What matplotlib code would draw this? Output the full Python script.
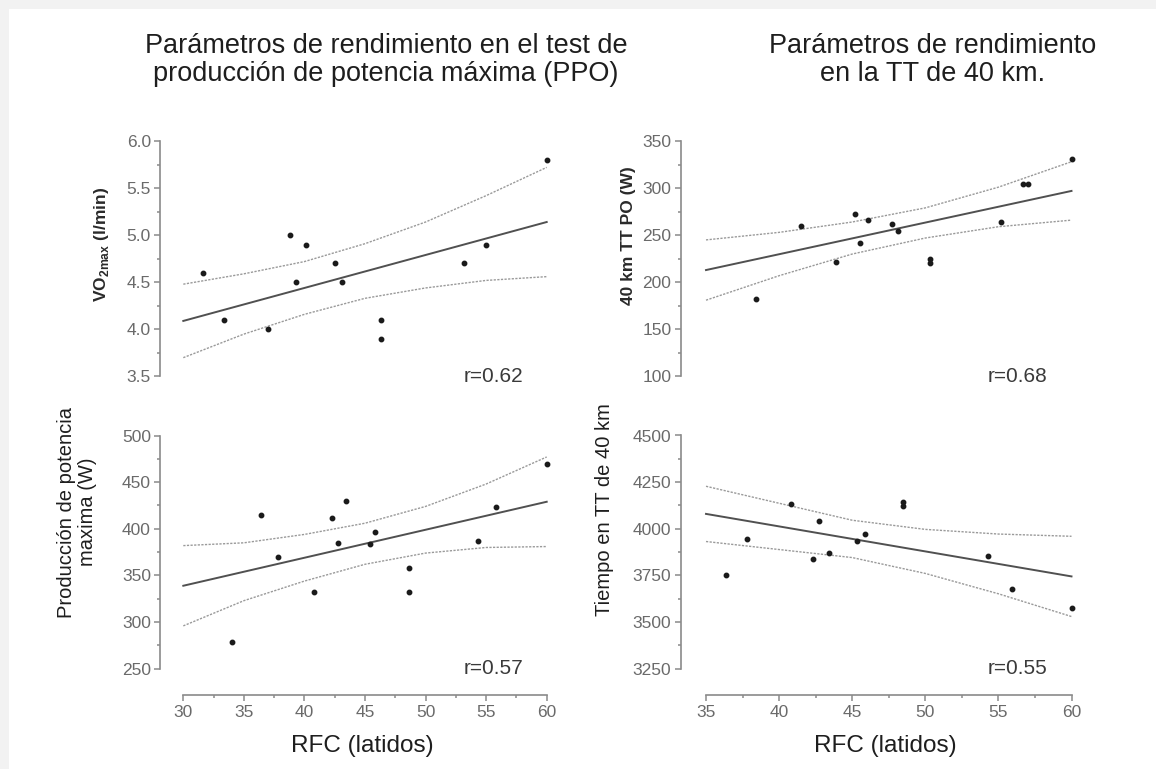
import matplotlib
matplotlib.use("Agg")
import matplotlib.pyplot as plt
from matplotlib.patches import Rectangle
from matplotlib.ticker import MultipleLocator, FormatStrFormatter

plt.rcParams['font.family'] = ['Liberation Sans', 'DejaVu Sans']
plt.rcParams['mathtext.fontset'] = 'custom'
plt.rcParams['mathtext.rm'] = 'Liberation Sans'
plt.rcParams['mathtext.bf'] = 'Liberation Sans:bold'

# ---------------- data ----------------
# Panel A: VO2max vs RFC
vo2_x = [31.6, 33.4, 37.0, 38.8, 39.3, 40.1, 42.5, 43.1, 46.3, 46.3, 53.2, 55.0, 60.0]
vo2_y = [4.6, 4.1, 4.0, 5.0, 4.5, 4.9, 4.7, 4.5, 4.1, 3.9, 4.7, 4.9, 5.8]
vo2_fit_x = [30, 60]
vo2_fit_y = [4.09, 5.14]
band_x_left = [30, 35, 40, 45, 50, 55, 60]
vo2_upper = [4.48, 4.59, 4.72, 4.91, 5.14, 5.42, 5.72]
vo2_lower = [3.70, 3.95, 4.16, 4.33, 4.44, 4.52, 4.56]

# Panel B: 40 km TT PO vs RFC
ttpo_x = [38.4, 41.5, 43.9, 45.2, 45.5, 46.1, 47.7, 48.1, 50.3, 50.3, 55.2, 56.7, 57.0, 60.0]
ttpo_y = [182, 260, 222, 273, 242, 266, 262, 254, 225, 221, 264, 304, 304, 331]
ttpo_fit_x = [35, 60]
ttpo_fit_y = [213, 297]
band_x_right = [35, 40, 45, 50, 55, 60]
ttpo_upper = [245, 253, 264, 279, 301, 328]
ttpo_lower = [181, 207, 230, 247, 259, 266]

# Panel C: PPO vs RFC
ppo_x = [34.0, 36.4, 37.8, 40.8, 42.3, 42.8, 43.4, 45.4, 45.8, 48.6, 48.6, 54.3, 55.8, 60.0]
ppo_y = [279, 415, 370, 332, 412, 385, 430, 384, 397, 358, 332, 387, 423, 469]
ppo_fit_x = [30, 60]
ppo_fit_y = [339, 429]
ppo_upper = [382, 385, 394, 406, 424, 448, 477]
ppo_lower = [296, 323, 344, 362, 374, 380, 381]

# Panel D: 40 km TT time vs RFC
tt_x = [36.4, 37.8, 40.8, 42.3, 42.75, 43.4, 45.35, 45.85, 48.5, 48.5, 54.3, 55.9, 60.0]
tt_y = [3755, 3945, 4135, 3837, 4040, 3873, 3936, 3971, 4145, 4120, 3857, 3675, 3575]
tt_fit_x = [35, 60]
tt_fit_y = [4080, 3745]
tt_upper = [4228, 4137, 4046, 3997, 3972, 3960]
tt_lower = [3932, 3889, 3846, 3761, 3652, 3530]

# ---------------- figure ----------------
W, H, DPI = 1156, 769, 100
fig = plt.figure(figsize=(W / DPI, H / DPI), dpi=DPI)
fig.patch.set_facecolor('#f2f2f2')
fig.patches.append(Rectangle((9 / W, 0), 1, 1 - 9 / H, transform=fig.transFigure,
                             facecolor='white', edgecolor='none', zorder=-10))

AX_COL = '#8a8a8a'
TICK_COL = '#6a6a6a'
PT = 72.0 / DPI


def px_rect(x0, y0, x1, y1):
    return [x0 / W, 1 - y1 / H, (x1 - x0) / W, (y1 - y0) / H]


def panel(rect, xs, ys, fx, fy, bx, up, lo, xlim, ylim, ymaj, ymin, xmaj, xmin,
          yfmt, rtext, show_x, yout_px):
    ax = fig.add_axes(rect)
    ax.set_facecolor('none')
    ax.set_xlim(*xlim)
    ax.set_ylim(*ylim)
    ax.plot(bx, up, color='#9a9a9a', lw=1.0, ls=(0, (1.6, 1.0)), clip_on=False)
    ax.plot(bx, lo, color='#9a9a9a', lw=1.0, ls=(0, (1.6, 1.0)), clip_on=False)
    ax.plot(fx, fy, color='#505050', lw=1.4, clip_on=False)
    ax.plot(xs, ys, ls='none', marker='o', ms=3.2, color='#1a1a1a', clip_on=False)
    for s in ('top', 'right'):
        ax.spines[s].set_visible(False)
    ax.spines['left'].set_position(('outward', yout_px * PT))
    ax.spines['left'].set_color(AX_COL)
    ax.spines['left'].set_linewidth(1.2)
    ax.yaxis.set_major_locator(MultipleLocator(ymaj))
    ax.yaxis.set_minor_locator(MultipleLocator(ymin))
    ax.yaxis.set_major_formatter(FormatStrFormatter(yfmt))
    ax.tick_params(axis='y', which='major', length=4, width=1.1, color=AX_COL,
                   labelcolor=TICK_COL, labelsize=12.5, pad=2.5)
    ax.tick_params(axis='y', which='minor', length=2.5, width=1.1, color=AX_COL)
    if show_x:
        ax.spines['bottom'].set_position(('outward', 26 * PT))
        ax.spines['bottom'].set_color(AX_COL)
        ax.spines['bottom'].set_linewidth(1.2)
        ax.xaxis.set_major_locator(MultipleLocator(xmaj))
        ax.xaxis.set_minor_locator(MultipleLocator(xmin))
        ax.tick_params(axis='x', which='major', length=4, width=1.1, color=AX_COL,
                       labelcolor=TICK_COL, labelsize=12.5, pad=3)
        ax.tick_params(axis='x', which='minor', length=2.5, width=1.1, color=AX_COL)
    else:
        ax.spines['bottom'].set_visible(False)
        ax.set_xticks([])
    ax.text(0.935, 0.0, rtext, transform=ax.transAxes, ha='right', va='center',
            fontsize=15, color='#3a3a3a')
    return ax


panel(px_rect(183.3, 141, 546.7, 376.5), vo2_x, vo2_y, vo2_fit_x, vo2_fit_y,
      band_x_left, vo2_upper, vo2_lower, (30, 60), (3.5, 6.0), 0.5, 0.25, 5, 2.5,
      '%.1f', 'r=0.62', False, 23.3)
panel(px_rect(706, 141, 1071.5, 376.5), ttpo_x, ttpo_y, ttpo_fit_x, ttpo_fit_y,
      band_x_right, ttpo_upper, ttpo_lower, (35, 60), (100, 350), 50, 25, 5, 2.5,
      '%d', 'r=0.68', False, 25.5)
panel(px_rect(183.3, 435.5, 546.7, 668.8), ppo_x, ppo_y, ppo_fit_x, ppo_fit_y,
      band_x_left, ppo_upper, ppo_lower, (30, 60), (250, 500), 50, 25, 5, 2.5,
      '%d', 'r=0.57', True, 23.3)
panel(px_rect(706, 435.5, 1071.5, 668.8), tt_x, tt_y, tt_fit_x, tt_fit_y,
      band_x_right, tt_upper, tt_lower, (35, 60), (3250, 4500), 250, 125, 5, 2.5,
      '%d', 'r=0.55', True, 25.5)

# titles
fig.text(386 / W, 1 - 60 / H, 'Parámetros de rendimiento en el test de\n'
         'producción de potencia máxima (PPO)', ha='center', va='center',
         fontsize=19.5, color='#1e1e1e', linespacing=1.1)
fig.text(933 / W, 1 - 60 / H, 'Parámetros de rendimiento\nen la TT de 40 km.',
         ha='center', va='center', fontsize=19.5, color='#1e1e1e', linespacing=1.1)

# y labels
fig.text(101 / W, 1 - 244 / H, r'$\mathbf{VO}_{\mathbf{2max}}$ (l/min)', rotation=90,
         ha='center', va='center', fontsize=12.5, fontweight='bold', color='#2a2a2a')
fig.text(629 / W, 1 - 236 / H, '40 km TT PO (W)', rotation=90,
         ha='center', va='center', fontsize=12.5, fontweight='bold', color='#2a2a2a')
fig.text(77 / W, 1 - 512 / H, 'Producción de potencia\nmaxima (W)', rotation=90,
         ha='center', va='center', fontsize=14.5, color='#1e1e1e', linespacing=1.15)
fig.text(604 / W, 1 - 510 / H, 'Tiempo en TT de 40 km', rotation=90,
         ha='center', va='center', fontsize=14.5, color='#1e1e1e')

# x labels
fig.text(362 / W, 1 - 746 / H, 'RFC (latidos)', ha='center', va='center',
         fontsize=17.5, color='#1e1e1e')
fig.text(885 / W, 1 - 746 / H, 'RFC (latidos)', ha='center', va='center',
         fontsize=17.5, color='#1e1e1e')

fig.savefig('out.png', dpi=DPI, facecolor=fig.get_facecolor())
